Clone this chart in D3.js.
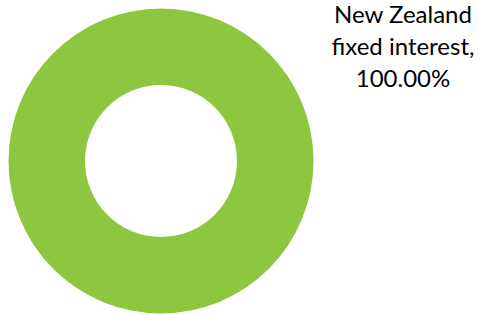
<!DOCTYPE html>
<meta charset="utf-8">
<script src="https://d3js.org/d3.v7.min.js"></script>
<style>
  body { margin: 0; background: #fff; }
</style>
<svg id="chart" width="480" height="315"></svg>
<script>
// Data
const categories = ["New Zealand fixed interest"];
const shares = [100.0];
const labelLines = ["New Zealand", "fixed interest,", "100.00%"];

const svg = d3.select("#chart"),
  width = +svg.attr("width"),
  height = +svg.attr("height");

const colour = d3.scaleOrdinal()
  .domain(categories)
  .range(["#8dc63f"]);

const pie = d3.pie().sort(null).value(d => d.value);
const arc = d3.arc().innerRadius(76).outerRadius(152.5);

const slices = pie(categories.map((c, i) => ({ name: c, value: shares[i] })));

const g = svg.append("g").attr("transform", "translate(161,161)");

g.selectAll("path")
  .data(slices)
  .enter().append("path")
  .attr("d", arc)
  .attr("fill", d => colour(d.data.name));

// data label, top right
const label = svg.append("text")
  .attr("text-anchor", "middle")
  .attr("font-family", "Lato, 'Open Sans', sans-serif")
  .attr("font-size", 24)
  .attr("fill", "#000");

label.selectAll("tspan")
  .data(labelLines)
  .enter().append("tspan")
  .attr("x", 403)
  .attr("y", (d, i) => 23 + i * 32)
  .text(d => d);
</script>
